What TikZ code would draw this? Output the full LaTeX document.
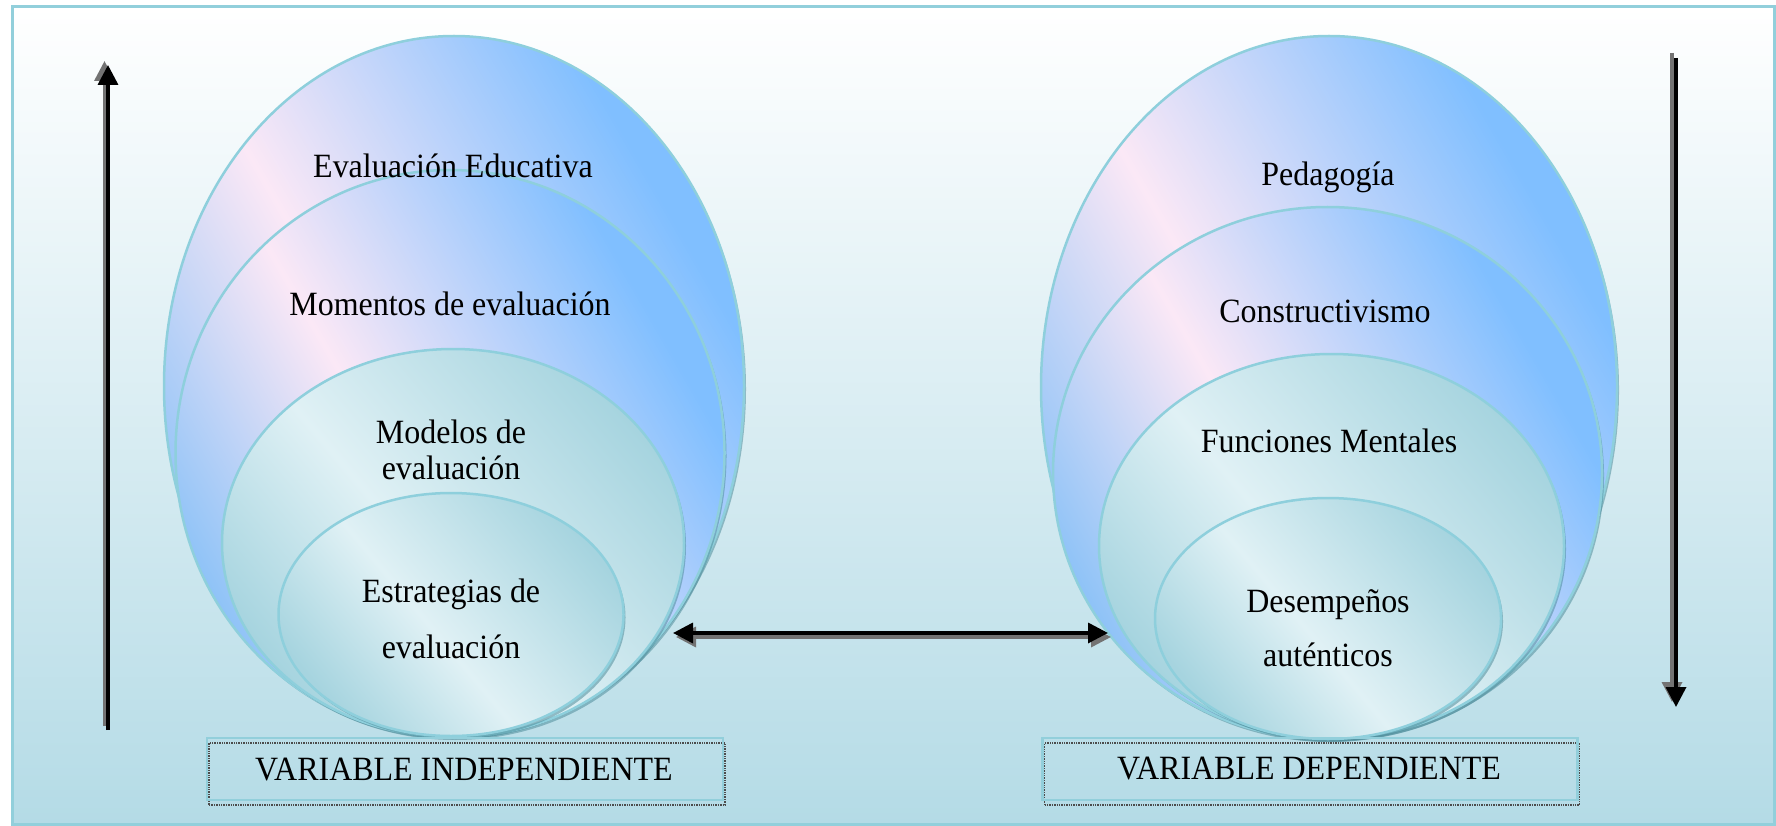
\documentclass[tikz,border=0pt]{standalone}
\usepackage{fontspec}
\setmainfont{Liberation Serif}[FakeStretch=0.94]
\usetikzlibrary{arrows.meta,shadows,shapes.geometric}
\definecolor{frameC}{HTML}{92CFDB}
\definecolor{bgBot}{HTML}{B4DBE6}
\definecolor{edgeC}{HTML}{8ECFDC}
\definecolor{shadC}{HTML}{4F8E9C}
\definecolor{blueA}{HTML}{8FC3F7}
\definecolor{pinkA}{HTML}{FBE8F6}
\definecolor{blueB}{HTML}{80BFFF}
\definecolor{blueC}{HTML}{A9CBF1}
\definecolor{tealD}{HTML}{A6D4DF}
\definecolor{tealL}{HTML}{E0F1F5}
\pgfdeclarehorizontalshading{outerShade}{100bp}{color(0bp)=(blueA); color(25bp)=(blueA); color(45bp)=(pinkA); color(72bp)=(blueB); color(82bp)=(blueB); color(100bp)=(blueC)}
\pgfdeclarehorizontalshading{innerShade}{100bp}{color(0bp)=(tealD); color(25bp)=(tealD); color(46bp)=(tealL); color(75bp)=(tealD); color(100bp)=(tealD)}
\tikzset{
  layer/.style={shape=ellipse, draw=edgeC, line width=2.5pt, inner sep=0pt, shade,
     drop shadow={shadow xshift=2pt, shadow yshift=-3pt, fill=shadC, opacity=.55}},
  outerL/.style={layer, shading=outerShade, shading angle=30},
  innerL/.style={layer, shading=innerShade, shading angle=40},
  lbl/.style={font=\fontsize{34}{36}\selectfont, inner sep=0pt, align=center},
  varbox/.style={draw=frameC, line width=2.5pt, minimum width=516pt, minimum height=62pt, inner sep=0pt,
     general shadow={shadow xshift=2pt, shadow yshift=-5pt, draw=black!70, densely dotted, line width=1.4pt}},
  arrBlack/.style={line width=3.5pt, black, -{Triangle[width=20pt,length=20pt]}},
  arrGray/.style={line width=3.5pt, black!55, -{Triangle[width=20pt,length=20pt]}},
  arrBoth/.style={line width=3.5pt, black, {Triangle[width=20pt,length=20pt]}-{Triangle[width=20pt,length=20pt]}},
  arrBothGray/.style={line width=3.5pt, black!55, {Triangle[width=20pt,length=20pt]}-{Triangle[width=20pt,length=20pt]}}
}
\begin{document}
\begin{tikzpicture}[x=1pt, y=-1pt]
\useasboundingbox (0,0) rectangle (1776,826);
\fill[white] (0,0) rectangle (1776,826);
\shade[top color=white, bottom color=bgBot] (12,7) rectangle (1774,824);
\draw[frameC, line width=3pt] (12,7) rectangle (1774,824);

% left group
\node[outerL, minimum width=580pt, minimum height=700pt] (L1) at (454,386) {};
\node[outerL, minimum width=549pt, minimum height=566pt] (L2) at (450,453) {};
\node[innerL, minimum width=462pt, minimum height=388pt] (L3) at (453,543) {};
\node[innerL, minimum width=345pt, minimum height=243pt] (L4) at (451,614.5) {};
\node[lbl, anchor=base] (t1) at (453,178) {Evaluación Educativa};
\node[lbl, anchor=base] (t2) at (450,315) {Momentos de evaluación};
\node[lbl, anchor=north] (t3) at (451,420) {Modelos de\\evaluación};
\node[lbl, anchor=north, font=\fontsize{34}{56}\selectfont] (t4) at (451,579) {Estrategias de\\evaluación};

% right group
\node[outerL, minimum width=576pt, minimum height=702pt] (R1) at (1329,387) {};
\node[outerL, minimum width=549pt, minimum height=532pt] (R2) at (1327.5,473) {};
\node[innerL, minimum width=465pt, minimum height=384pt] (R3) at (1331.5,546) {};
\node[innerL, minimum width=346pt, minimum height=241pt] (R4) at (1328,618.5) {};
\node[lbl, anchor=base] (r1) at (1328,186) {Pedagogía};
\node[lbl, anchor=base] (r2) at (1325,322) {Constructivismo};
\node[lbl, anchor=base] (r3) at (1329,452) {Funciones Mentales};
\node[lbl, anchor=north, font=\fontsize{34}{54}\selectfont] (r4) at (1328,589) {Desempeños\\auténticos};

% variable boxes
\node[varbox] (vi) at (465,769) {};
\node[lbl, anchor=base] (vit) at (464,780) {VARIABLE INDEPENDIENTE};
\node[varbox, minimum width=535pt] (vd) at (1310,769) {};
\node[lbl, anchor=base] (vdt) at (1309,779) {VARIABLE DEPENDIENTE};

% arrows
\coordinate (upS) at (108,730);
\coordinate (upE) at (108,65);
\draw[arrGray, transform canvas={xshift=-3.5pt, yshift=4pt}] (upS) -- (upE);
\draw[arrBlack] (upS) -- (upE);
\coordinate (dnS) at (1676,58);
\coordinate (dnE) at (1676,707);
\draw[arrGray, transform canvas={xshift=-4pt, yshift=5pt}] (dnS) -- (dnE);
\draw[arrBlack] (dnS) -- (dnE);
\coordinate (hL) at (673,633);
\coordinate (hR) at (1108,633);
\draw[arrBothGray, transform canvas={xshift=3pt, yshift=-4pt}] (hL) -- (hR);
\draw[arrBoth] (hL) -- (hR);
\end{tikzpicture}
\end{document}
